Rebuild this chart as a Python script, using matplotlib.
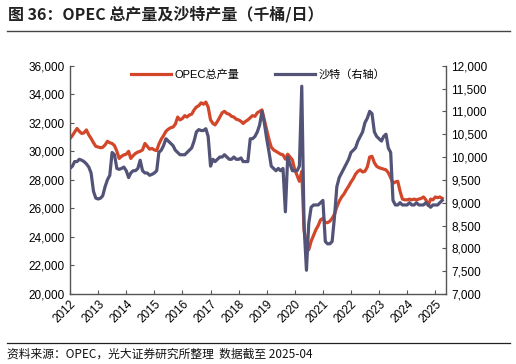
import matplotlib
matplotlib.use("Agg")
import matplotlib.pyplot as plt
import matplotlib.dates as mdates
from matplotlib.lines import Line2D
import pandas as pd

plt.rcParams['font.family'] = ['Liberation Sans', 'Noto Sans CJK SC', 'DejaVu Sans']

# Monthly data, 2012-01 .. 2025-04 (thousand barrels/day)
opec_total = [
    # 2012
    30900, 31100, 31350, 31600, 31400, 31250, 31300, 31500, 31150, 30900, 30600, 30350,
    # 2013
    30300, 30250, 30280, 30450, 30700, 30600, 30550, 30400, 30000, 29500, 29650, 29750,
    # 2014
    29800, 30000, 29500, 29700, 29850, 29950, 30000, 30100, 30550, 30350, 30150, 30200,
    # 2015
    30100, 30050, 30500, 30850, 31100, 31400, 31550, 31650, 31700, 31900, 32400, 32200,
    # 2016
    32300, 32500, 32400, 32550, 32600, 32900, 33100, 33200, 33400, 33300, 33450, 33100,
    # 2017
    32200, 31950, 31850, 32100, 32400, 32700, 32800, 32650, 32600, 32450, 32400, 32250,
    # 2018
    32200, 32100, 31950, 32100, 32200, 32350, 32500, 32450, 32700, 32800, 32900, 32200,
    # 2019
    31500, 30800, 30300, 30100, 30000, 29900, 29800, 29750, 29450, 29800, 29600, 29400,
    # 2020
    28700, 28300, 27900, 28600, 24500, 23300, 23100, 23700, 24100, 24500, 24800, 25200,
    # 2021
    25300, 25000, 25000, 25100, 25300, 25600, 26100, 26500, 26800, 27000, 27300, 27550,
    # 2022
    27850, 28100, 28400, 28600, 28700, 28550, 28600, 28900, 29600, 29650, 29200, 28950,
    # 2023
    28850, 28800, 28750, 28700, 28500, 28150, 27750, 27850, 27900, 27200, 26650, 26600,
    # 2024
    26600, 26650, 26600, 26650, 26600, 26650, 26700, 26800, 26600, 26200, 26650, 26600,
    # 2025
    26800, 26750, 26800, 26700,
]

saudi = [
    # 2012
    9750, 9800, 9900, 9900, 9950, 9930, 9900, 9850, 9780, 9650, 9250, 9100,
    # 2013
    9080, 9100, 9150, 9350, 9500, 9600, 10100, 10050, 9750, 9730, 9750, 9780,
    # 2014
    9700, 9550, 9650, 9700, 9700, 9750, 9930, 9700, 9650, 9650, 9600, 9620,
    # 2015
    9650, 9700, 10100, 10150, 10250, 10400, 10350, 10300, 10250, 10150, 10100, 10050,
    # 2016
    10050, 10050, 10100, 10150, 10200, 10350, 10550, 10600, 10580, 10580, 10620, 10450,
    # 2017
    9800, 9950, 9900, 9950, 10000, 10000, 10050, 10000, 9950, 9950, 10000, 9950,
    # 2018
    9950, 9980, 9900, 9900, 9900, 10400, 10400, 10450, 10550, 10700, 11000, 10750,
    # 2019
    10400, 10100, 9800, 9750, 9700, 9750, 9700, 9750, 8800, 10000, 9850, 9700,
    # 2020
    9700, 9700, 9800, 11550, 8500, 7520, 8550, 8900, 8950, 8950, 8950, 9000,
    # 2021
    9050, 8150, 8100, 8100, 8150, 8700, 9350, 9550, 9650, 9750, 9850, 9950,
    # 2022
    10100, 10150, 10200, 10350, 10450, 10550, 10750, 10850, 11000, 10950, 10550, 10450,
    # 2023
    10400, 10350, 10450, 10500, 10200, 10100, 9050, 8950, 8950, 9000, 8950, 8950,
    # 2024
    8950, 9000, 8950, 8950, 9000, 8950, 8950, 8950, 9000, 8950, 8900, 8950,
    # 2025
    8950, 8950, 9000, 9050,
]

year_labels = [str(y) for y in range(2012, 2026)]
left_ticks = list(range(20000, 36001, 2000))
right_ticks = list(range(7000, 12001, 500))

dates = pd.date_range('2012-01-01', periods=len(opec_total), freq='MS')

RED = '#D2472A'
BLUE = '#535378'
SPINE = '#555555'

fig = plt.figure(figsize=(5.16, 3.64), dpi=100)
ax = fig.add_axes([0.1357, 0.1923, 0.7286, 0.6272])
ax2 = ax.twinx()

ax.plot(dates, opec_total, color=RED, lw=2.3, solid_joinstyle='round')
ax2.plot(dates, saudi, color=BLUE, lw=2.3, solid_joinstyle='round')

ax.set_xlim(pd.Timestamp('2012-01-01'), pd.Timestamp('2025-05-20'))
ax.set_ylim(20000, 36000)
ax2.set_ylim(7000, 12000)
ax.set_yticks(left_ticks)
ax.set_yticklabels([f'{v:,}' for v in left_ticks])
ax2.set_yticks(right_ticks)
ax2.set_yticklabels([f'{v:,}' for v in right_ticks])

ax.set_xticks([pd.Timestamp(f'{y}-01-01') for y in year_labels])
ax.set_xticklabels(year_labels, rotation=45, ha='right', va='top', rotation_mode='anchor')

for a in (ax, ax2):
    a.spines['top'].set_visible(False)
    for s in ('left', 'right', 'bottom'):
        a.spines[s].set_color(SPINE)
        a.spines[s].set_linewidth(1.0)
ax.spines['right'].set_visible(False)
ax2.spines['left'].set_visible(False)
ax2.spines['bottom'].set_visible(False)

ax.tick_params(axis='y', direction='in', length=3, color=SPINE, labelsize=8.5, pad=4)
ax.tick_params(axis='x', direction='in', length=3, color=SPINE, labelsize=8.5, pad=3)
ax2.tick_params(axis='y', direction='in', length=3, color=SPINE, labelsize=8.5, pad=4)

handles = [Line2D([], [], color=RED, lw=2.3), Line2D([], [], color=BLUE, lw=2.3)]
leg = ax2.legend(handles, ['OPEC总产量', '沙特（右轴）'], ncol=2, loc='upper center',
                 bbox_to_anchor=(0.5, 1.03), frameon=False, fontsize=8,
                 handlelength=3.6, columnspacing=3.2, handletextpad=0.3,
                 prop={'family': ['Liberation Sans', 'Noto Sans CJK SC'], 'size': 8})

fig.text(0.016, 0.962, '图 36：OPEC 总产量及沙特产量（千桶/日）', fontsize=11.5,
         fontweight='bold', va='center', ha='left', color='#222222',
         family=['Noto Sans CJK SC', 'DejaVu Sans'])
fig.add_artist(Line2D([0.014, 0.988], [0.915, 0.915], color='#444444', lw=1.0))
fig.add_artist(Line2D([0.014, 0.988], [0.057, 0.057], color='#222222', lw=0.9))
fig.text(0.014, 0.028, '资料来源：OPEC，光大证券研究所整理  数据截至 2025-04', fontsize=8.5,
         va='center', ha='left', color='#111111',
         family=['Noto Sans CJK SC', 'DejaVu Sans'])

fig.savefig('out.png', dpi=100)
